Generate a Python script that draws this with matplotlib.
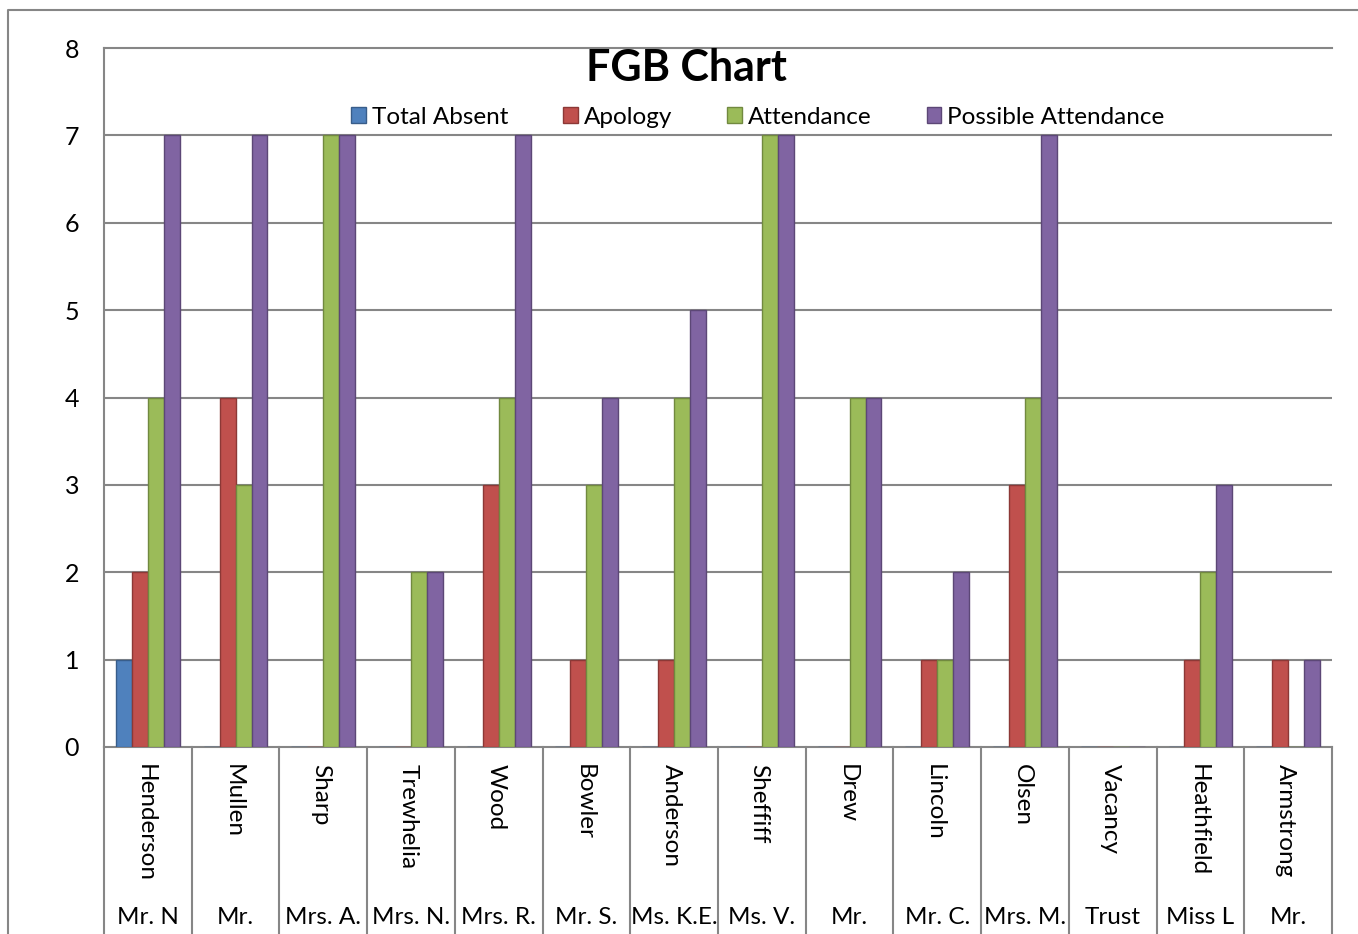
import numpy as np
import matplotlib.pyplot as plt
from matplotlib.lines import Line2D
from matplotlib.transforms import blended_transform_factory

plt.rcParams['font.family'] = ['Lato', 'DejaVu Sans']

surnames = ["Henderson", "Mullen", "Sharp", "Trewhelia", "Wood", "Bowler", "Anderson",
            "Sheffiff", "Drew", "Lincoln", "Olsen", "Vacancy", "Heathfield", "Armstrong"]
titles = ["Mr. N", "Mr.", "Mrs. A.", "Mrs. N.", "Mrs. R.", "Mr. S.", "Ms. K.E.",
          "Ms. V.", "Mr.", "Mr. C.", "Mrs. M.", "Trust", "Miss L", "Mr."]

total_absent = [1, 0, 0, 0, 0, 0, 0, 0, 0, 0, 0, 0, 0, 0]
apology = [2, 4, 0, 0, 3, 1, 1, 0, 0, 1, 3, 0, 1, 1]
attendance = [4, 3, 7, 2, 4, 3, 4, 7, 4, 1, 4, 0, 2, 0]
possible = [7, 7, 7, 2, 7, 4, 5, 7, 4, 2, 7, 0, 3, 1]

series = [("Total Absent", total_absent, "#4F81BD", "#385D8A"),
          ("Apology", apology, "#C0504D", "#8C3836"),
          ("Attendance", attendance, "#9BBB59", "#71893F"),
          ("Possible Attendance", possible, "#8064A2", "#5C4776")]

W, H = 1358, 934
grid_col = "#868686"
fig = plt.figure(figsize=(W / 100, H / 100), dpi=100)
ax = fig.add_axes([104 / W, (H - 747) / H, (1332 - 104) / W, (747 - 48) / H])

n = len(surnames)
index = np.arange(n)
bar_width = 1 / 5.5

for i, (name, vals, col, edge) in enumerate(series):
    ax.bar(index + (i - 1.5) * bar_width, vals, bar_width, color=col,
           edgecolor=edge, linewidth=1, label=name, zorder=3)

ax.set_xlim(-0.5, n - 0.5)
ax.set_ylim(0, 8)
ax.set_yticks(range(9))
for y in range(1, 8):
    ax.axhline(y, color=grid_col, lw=1.5, zorder=1)
ax.tick_params(axis='y', length=0, pad=18, labelsize=18)
ax.set_xticks([])
ax.spines["right"].set_visible(False)
for s in ["left", "bottom", "top"]:
    ax.spines[s].set_color(grid_col)
    ax.spines[s].set_linewidth(1.5)

# multi-level category axis
trans = blended_transform_factory(ax.transData, ax.transAxes)
axis_h = (747 - 48)
for k in range(n + 1):
    ax.add_line(Line2D([k - 0.5, k - 0.5], [0, -200 / axis_h], transform=trans,
                       color=grid_col, lw=1.5, clip_on=False))
for k in range(n):
    ax.text(k - 0.03, -17 / axis_h, surnames[k], transform=trans, rotation=270,
            ha='center', va='top', fontsize=17.5)
    ax.text(k, -171 / axis_h, titles[k], transform=trans,
            ha='center', va='center', fontsize=17.5)

# outer chart border
fig.add_artist(Line2D([8 / W, 8 / W, 1], [0, 1 - 10 / H, 1 - 10 / H],
                      transform=fig.transFigure, color=grid_col, lw=1.5))

fig.text(686 / W, 1 - 68 / H, "FGB Chart", ha='center', va='center',
         fontsize=31, fontweight='bold')

fs = 17.5
fig.legend(loc='center', bbox_to_anchor=(758 / W, 1 - 117 / H), ncol=4,
           frameon=False, fontsize=fs, handlelength=0.6, handleheight=0.6,
           handletextpad=0.25, columnspacing=55 / (fs * 100 / 72),
           borderpad=0, borderaxespad=0)

plt.savefig("out.png", dpi=100)
